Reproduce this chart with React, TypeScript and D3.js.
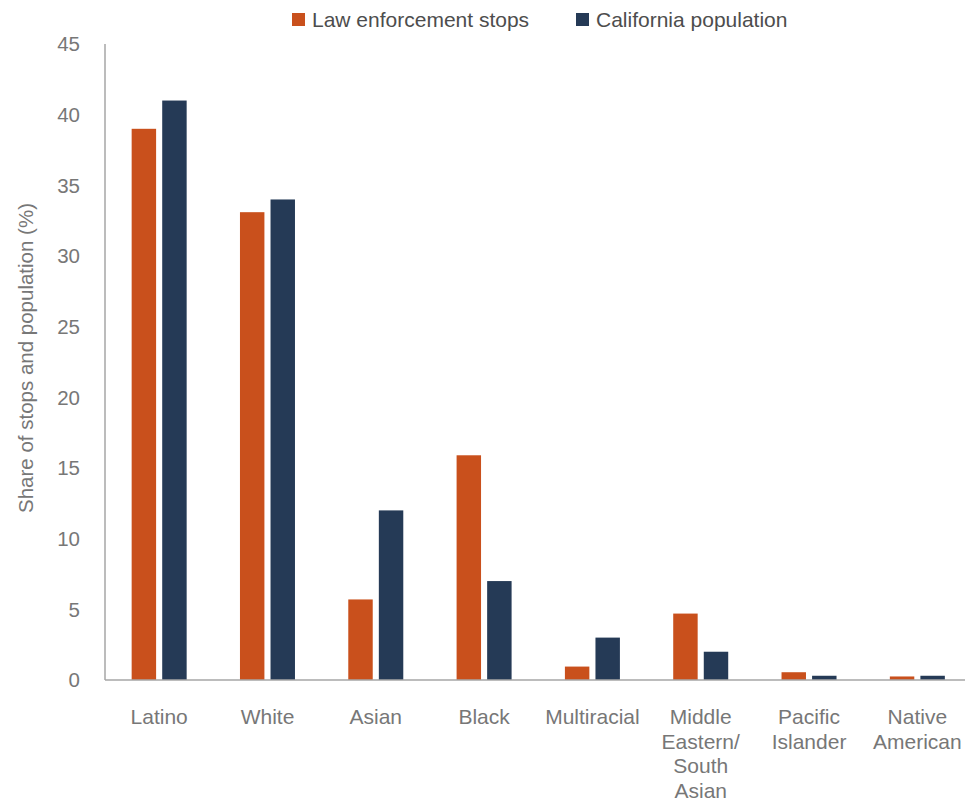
import React from "react";
import * as d3 from "d3";

const categories: string[][] = [
  ["Latino"],
  ["White"],
  ["Asian"],
  ["Black"],
  ["Multiracial"],
  ["Middle", "Eastern/", "South", "Asian"],
  ["Pacific", "Islander"],
  ["Native", "American"],
];
const stops = [39, 33.1, 5.7, 15.9, 0.95, 4.7, 0.55, 0.25];
const population = [41, 34, 12, 7, 3, 2, 0.3, 0.3];
const seriesNames = ["Law enforcement stops", "California population"];
const seriesColors = ["#c9501c", "#253a56"];
const yTicks = [0, 5, 10, 15, 20, 25, 30, 35, 40, 45];

const W = 965;
const H = 803;
const FONT = "'Liberation Sans', Arial, sans-serif";

export default function App() {
  const keys = categories.map((c) => c.join(" "));
  const x = d3.scaleBand<string>().domain(keys).range([105, 971.5]).paddingInner(0).paddingOuter(0);
  const y = d3.scaleLinear().domain([0, 45]).range([680, 44]);
  const sub = d3.scaleBand<number>().domain([0, 1]).range([-27.5, 27.5]).paddingInner(0.2);
  const series = [stops, population];

  return (
    <svg width={W} height={H} style={{ position: "absolute", left: 0, top: 0, background: "#fff" }}>
      <rect x={0} y={0} width={W} height={H} fill="#fff" />
      {/* legend */}
      {seriesNames.map((name, i) => {
        const lx = i === 0 ? 292 : 576;
        return (
          <g key={name}>
            <rect x={lx} y={13} width={13} height={13} fill={seriesColors[i]} />
            <text x={lx + 20} y={27} fontFamily={FONT} fontSize={21} fill="#4d4d4d">
              {name}
            </text>
          </g>
        );
      })}
      {/* y axis title */}
      <text
        transform={`translate(33,358) rotate(-90)`}
        textAnchor="middle"
        fontFamily={FONT}
        fontSize={20.5}
        fill="#777"
      >
        Share of stops and population (%)
      </text>
      {/* y tick labels */}
      {yTicks.map((t) => (
        <text
          key={t}
          x={80}
          y={y(t)}
          dy="0.35em"
          textAnchor="end"
          fontFamily={FONT}
          fontSize={20.5}
          fill="#777"
        >
          {t}
        </text>
      ))}
      {/* bars */}
      {keys.map((k, ci) => {
        const cx = (x(k) as number) + x.bandwidth() / 2;
        return (
          <g key={k}>
            {series.map((s, si) => (
              <rect
                key={si}
                x={cx + (sub(si) as number)}
                y={y(s[ci])}
                width={sub.bandwidth()}
                height={y(0) - y(s[ci])}
                fill={seriesColors[si]}
              />
            ))}
          </g>
        );
      })}
      {/* axes lines */}
      <line x1={105} x2={105} y1={y(45)} y2={y(0)} stroke="#a6a6a6" strokeWidth={1.5} />
      <line x1={105} x2={965} y1={y(0)} y2={y(0)} stroke="#a6a6a6" strokeWidth={1.5} />
      {/* x labels */}
      {categories.map((lines, ci) => {
        const k = keys[ci];
        const cx = (x(k) as number) + x.bandwidth() / 2;
        return (
          <text key={k} textAnchor="middle" fontFamily={FONT} fontSize={21} fill="#777">
            {lines.map((ln, li) => (
              <tspan key={li} x={cx} y={724 + li * 24.6}>
                {ln}
              </tspan>
            ))}
          </text>
        );
      })}
    </svg>
  );
}
